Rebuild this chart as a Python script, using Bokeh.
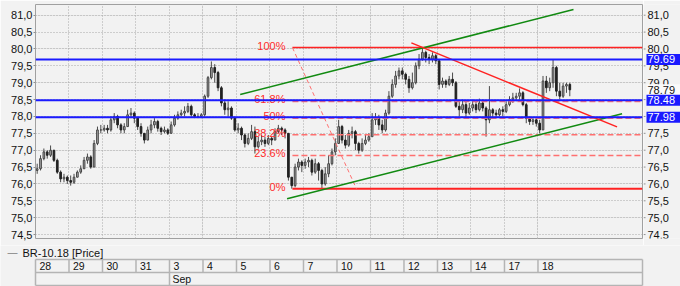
from bokeh.plotting import figure
from bokeh.models import (Range1d, LinearAxis, FixedTicker, CustomJSTickFormatter,
                          ColumnDataSource, Span, Grid)
from bokeh.layouts import column, row
from bokeh.embed import file_html
from bokeh.resources import INLINE
from bokeh.core.properties import value

# ---------------- data ----------------
days = ["28", "29", "30", "31", "3", "4", "5", "6", "7", "10", "11", "12", "13", "14", "17", "18"]
months = ["Sep"]
month_start = [4]          # index of first day of the month in `days`
bars_per_day = 10
series_name = "BR-10.18 [Price]"

first_open = 76.4
close_ = [
    76.45, 76.75, 76.95, 76.85, 77.0, 76.7, 76.35, 76.15, 76.2, 76.1,
    76.05, 76.2, 76.35, 76.45, 76.7, 76.8, 76.5, 77.2, 77.6, 77.6,
    77.65, 77.6, 77.9, 78.0, 77.75, 77.6, 77.7, 78.05, 78.1, 77.95,
    77.7, 77.5, 77.3, 77.6, 77.75, 77.85, 77.65, 77.55, 77.6, 77.5,
    77.75, 77.95, 78.05, 78.1, 78.15, 78.3, 78.05, 78.0, 78.0, 78.05,
    78.6, 79.15, 79.45, 79.3, 78.85, 78.4, 78.2, 78.25, 77.95, 77.6,
    77.65, 77.45, 77.2, 77.35, 77.55, 77.1, 77.25, 77.3, 77.2, 77.35,
    77.3, 77.55, 77.65, 77.6, 77.5, 76.2, 75.95, 76.5, 76.65, 76.55,
    76.65, 76.7, 76.35, 76.6, 76.4, 76.0, 76.3, 76.6, 76.95, 77.2,
    77.7, 77.3, 77.15, 77.5, 77.55, 77.2, 77.0, 77.2, 77.3, 77.4,
    77.9, 77.95, 77.75, 77.6, 78.1, 78.6, 78.95, 79.2, 79.35, 79.25,
    79.1, 78.85, 79.0, 79.5, 79.7, 79.9, 79.75, 79.7, 79.8, 79.65,
    78.95, 79.05, 78.95, 79.1, 79.0, 78.3, 78.2, 78.35, 78.1, 78.25,
    78.35, 78.2, 78.4, 78.25, 77.9, 78.2, 78.1, 78.05, 78.2, 78.15,
    78.35, 78.5, 78.55, 78.6, 78.7, 78.35, 77.95, 77.85, 77.9, 77.8,
    77.6, 79.05, 78.85, 79.0, 79.45, 78.75, 78.6, 78.9, 78.95, 78.79,
]
high_ = [
    76.6, 76.85, 77.05, 77.0, 77.14, 77.0, 76.75, 76.4, 76.3, 76.25,
    76.25, 76.3, 76.4, 76.55, 76.8, 76.9, 76.85, 77.3, 77.7, 77.75,
    77.75, 77.75, 78.0, 78.1, 78.05, 77.8, 77.8, 78.2, 78.25, 78.15,
    77.95, 77.8, 77.5, 77.7, 77.9, 77.95, 77.9, 77.7, 77.7, 77.65,
    77.85, 78.05, 78.15, 78.2, 78.3, 78.4, 78.35, 78.1, 78.1, 78.1,
    78.65, 79.2, 79.63, 79.55, 79.35, 78.9, 78.5, 78.45, 78.3, 78.0,
    77.8, 77.7, 77.5, 77.5, 77.75, 77.7, 77.4, 77.45, 77.4, 77.45,
    77.4, 77.65, 77.75, 77.7, 77.65, 77.5, 76.2, 76.6, 76.75, 76.7,
    76.75, 76.8, 76.75, 76.75, 76.65, 76.45, 76.5, 76.85, 77.05, 77.35,
    77.9, 77.75, 77.45, 77.6, 77.7, 77.6, 77.25, 77.35, 77.45, 77.5,
    78.1, 78.1, 78.05, 77.9, 78.2, 78.75, 79.1, 79.35, 79.45, 79.45,
    79.3, 79.2, 79.3, 79.6, 79.85, 80.04, 79.95, 79.85, 79.9, 79.85,
    79.66, 79.15, 79.1, 79.2, 79.3, 79.05, 78.45, 78.5, 78.45, 78.4,
    78.5, 78.45, 78.53, 78.5, 78.3, 78.9, 78.25, 78.2, 78.25, 78.3,
    78.45, 78.6, 78.7, 78.7, 78.83, 78.75, 78.4, 78.0, 77.95, 77.95,
    77.9, 79.2, 79.2, 79.15, 79.69, 79.5, 79.0, 79.0, 79.0, 79.0,
]
low_ = [
    76.3, 76.4, 76.7, 76.75, 76.8, 76.65, 76.3, 76.05, 76.05, 76.0,
    75.95, 76.0, 76.2, 76.3, 76.45, 76.6, 76.45, 76.5, 77.15, 77.5,
    77.55, 77.5, 77.55, 77.8, 77.65, 77.5, 77.5, 77.7, 77.95, 77.8,
    77.6, 77.4, 77.2, 77.3, 77.5, 77.65, 77.55, 77.45, 77.5, 77.45,
    77.5, 77.7, 77.9, 78.0, 78.0, 78.1, 78.0, 77.95, 77.95, 77.95,
    78.0, 78.55, 79.1, 79.0, 78.75, 78.3, 78.05, 78.0, 77.9, 77.55,
    77.5, 77.3, 77.08, 77.15, 77.3, 76.9, 77.05, 77.15, 77.1, 77.15,
    77.15, 77.3, 77.5, 77.45, 77.35, 76.1, 75.86, 75.9, 76.4, 76.35,
    76.45, 76.5, 76.25, 76.3, 76.1, 75.88, 75.95, 76.2, 76.55, 76.85,
    77.2, 77.2, 77.05, 77.1, 77.35, 77.0, 76.9, 76.95, 77.15, 77.25,
    77.4, 77.75, 77.6, 77.5, 77.55, 78.05, 78.55, 78.85, 79.1, 79.1,
    78.95, 78.7, 78.8, 78.95, 79.4, 79.65, 79.6, 79.55, 79.6, 79.55,
    78.8, 78.85, 78.85, 78.9, 78.9, 78.25, 78.0, 78.1, 77.95, 78.05,
    78.15, 78.1, 78.15, 78.15, 77.4, 77.8, 77.95, 77.95, 78.0, 78.0,
    78.1, 78.3, 78.4, 78.45, 78.5, 78.3, 77.8, 77.75, 77.75, 77.7,
    77.5, 77.6, 78.7, 78.75, 78.85, 78.6, 78.5, 78.55, 78.7, 78.6,
]

y_ticks = [74.5, 75.0, 75.5, 76.0, 76.5, 77.0, 77.5, 78.0, 78.5, 79.0, 79.5, 80.0, 80.5, 81.0]

# drawn analysis tools (anchors in day units / price)
fib_high, fib_low = 80.04, 75.86
fib_pct = [1.0, 0.618, 0.5, 0.382, 0.236, 0.0]
fib_text = ["100%", "61.8%", "50%", "38.2%", "23.6%", "0%"]
fib_x = [7.67, 9.58]                      # start of levels / end of diagonal
blue_levels = [79.69, 78.48, 77.98]
last_price = 78.79
green_upper = ([6.11, 16.06], [78.65, 81.17])
green_lower = ([7.51, 17.51], [75.56, 78.08])
red_trend = ([11.22, 17.36], [80.18, 77.69])

X_END = 18.12
DAY_PX = 607 / X_END
BG = "#f2f2f2"
FONT = "Liberation Sans"
Y_RANGE = Range1d(74.383, 81.318)

# ---------------- main price figure ----------------
p = figure(width=643, height=245, x_range=Range1d(0, X_END), y_range=Y_RANGE,
           output_backend="svg", toolbar_location=None, x_axis_location=None, y_axis_location=None,
           min_border_left=35, min_border_right=1, min_border_top=4, min_border_bottom=7,
           background_fill_color=BG, border_fill_color=BG, outline_line_color="#a0a0a0")

p.add_layout(Grid(dimension=0, ticker=FixedTicker(ticks=list(range(1, len(days)))),
                  grid_line_color="#a8a8a8", grid_line_dash="1 2"))
p.add_layout(Grid(dimension=1, ticker=FixedTicker(ticks=y_ticks),
                  grid_line_color="#a8a8a8", grid_line_dash="1 2"))

fmt = CustomJSTickFormatter(code="return tick.toFixed(1).replace('.', ',');")
yax = LinearAxis(ticker=FixedTicker(ticks=y_ticks), formatter=fmt, axis_line_color=None,
                 major_tick_out=2, major_tick_in=0, major_tick_line_color="#909090",
                 minor_tick_line_color=None, major_label_standoff=1,
                 major_label_text_font=FONT, major_label_text_font_size="11px",
                 major_label_text_color="#111111")
p.add_layout(yax, "left")

xs = [d + (j + 0.5) / bars_per_day for d in range(len(days)) for j in range(bars_per_day)]
opens = [first_open] + close_[:-1]
up = [c >= o for o, c in zip(opens, close_)]
src = ColumnDataSource(dict(
    x=xs, open=opens, close=close_, high=high_, low=low_,
    fill=["#b0b0b0" if u else "#222222" for u in up],
    line=["#444444" if u else "#222222" for u in up],
))
p.segment(x0="x", y0="high", x1="x", y1="low", source=src, line_color="#4a4a4a", line_width=1)
p.vbar(x="x", width=0.05, top="open", bottom="close", source=src,
       fill_color="fill", line_color="line", line_width=1)

# Fibonacci retracement
fib_prices = [fib_low + k * (fib_high - fib_low) for k in fib_pct]
for k, fp in zip(fib_pct, fib_prices):
    if k in (1.0, 0.0):
        p.segment(x0=[fib_x[0]], y0=[fp], x1=[X_END], y1=[fp], line_color="#ff2222",
                  line_width=2 if k == 0.0 else 1.5)
    else:
        p.segment(x0=[fib_x[0]], y0=[fp], x1=[X_END], y1=[fp], line_color="#ff7070",
                  line_width=1.5, line_dash="6 3")
p.line(x=fib_x, y=[fib_high, fib_low], line_color="#ff7070", line_width=1, line_dash="4 3")
p.text(x=[fib_x[0]] * len(fib_prices), y=fib_prices, text=fib_text, text_align="right",
       text_baseline="alphabetic", x_offset=-7, y_offset=-2, text_color="#ff2a2a",
       text_font=value(FONT), text_font_size="11px")

# channel & trend lines
p.line(x=green_upper[0], y=green_upper[1], line_color="#118a11", line_width=1.6)
p.line(x=green_lower[0], y=green_lower[1], line_color="#118a11", line_width=1.6)
p.line(x=red_trend[0], y=red_trend[1], line_color="#ff2222", line_width=1.5)

# horizontal levels
for lvl in blue_levels:
    p.add_layout(Span(location=lvl, dimension="width", line_color="#1a1aff", line_width=2))

# ---------------- right price scale with price tags ----------------
p3 = figure(width=37, height=245, x_range=Range1d(0, 37), y_range=Y_RANGE,
            output_backend="svg", toolbar_location=None, x_axis_location=None, y_axis_location=None,
            min_border_left=0, min_border_right=0, min_border_top=4, min_border_bottom=7,
            background_fill_color=BG, border_fill_color=BG, outline_line_color=None)
p3.grid.visible = False
p3.segment(x0=[0] * len(y_ticks), y0=y_ticks, x1=[2] * len(y_ticks), y1=y_ticks,
           line_color="#909090", line_width=1)
p3.text(x=[4] * len(y_ticks), y=y_ticks, text=[f"{t:.1f}".replace(".", ",") for t in y_ticks],
        text_baseline="middle", text_font=value(FONT), text_font_size="11px", text_color="#111111")
p3.rect(x=[20], y=[last_price], width=34, height=11, width_units="screen", height_units="screen",
        fill_color="#fafafa", line_color=None)
p3.text(x=[4], y=[last_price], text=[f"{last_price:.2f}"], text_baseline="middle",
        text_font=value(FONT), text_font_size="11px", text_color="#111111")
p3.rect(x=[20] * len(blue_levels), y=blue_levels, width=34, height=11, width_units="screen",
        height_units="screen", fill_color="#1a1aff", line_color=None)
p3.text(x=[4] * len(blue_levels), y=blue_levels, text=[f"{v:.2f}" for v in blue_levels],
        text_baseline="middle", text_font=value(FONT), text_font_size="11px", text_color="white")

# ---------------- legend + date strip ----------------
# frame spans the whole width; x in day units (same scale as the price pane), y in pixels
p2 = figure(width=680, height=41, x_range=Range1d(-35 / DAY_PX, X_END + 38 / DAY_PX),
            y_range=Range1d(0, 41),
            output_backend="svg", toolbar_location=None, x_axis_location=None, y_axis_location=None,
            min_border_left=0, min_border_right=0, min_border_top=0, min_border_bottom=0,
            background_fill_color=BG, border_fill_color=BG, outline_line_color=None)
p2.grid.visible = False
n_days = len(days)
SC = "#b4b4b4"
# strip box: rows y 1..14 (months) and 14..27 (days)
p2.segment(x0=[0, 0, 0], y0=[1, 14, 27], x1=[X_END] * 3, y1=[1, 14, 27], line_color=SC, line_width=1.5)
p2.segment(x0=[0, X_END], y0=[1, 1], x1=[0, X_END], y1=[27, 27], line_color=SC, line_width=1.5)
p2.segment(x0=list(range(1, n_days)), y0=[14] * (n_days - 1), x1=list(range(1, n_days)),
           y1=[27] * (n_days - 1), line_color=SC, line_width=1.5)
p2.segment(x0=month_start, y0=[1] * len(months), x1=month_start, y1=[14] * len(months),
           line_color=SC, line_width=1.5)
p2.text(x=list(range(n_days)), y=[20.5] * n_days, text=days, x_offset=4, text_baseline="middle",
        text_font=value(FONT), text_font_size="10.5px", text_color="#111111")
p2.text(x=month_start, y=[7.5] * len(months), text=months, x_offset=3, text_baseline="middle",
        text_font=value(FONT), text_font_size="10.5px", text_color="#111111")
# series legend
p2.text(x=[0], y=[34], text=["\u2014"], x_offset=-28, text_baseline="middle",
        text_font=value(FONT), text_font_size="10px", text_color="#808080")
p2.text(x=[0], y=[34], text=[series_name], x_offset=-13, text_baseline="middle",
        text_font=value(FONT), text_font_size="11px", text_color="#111111")

layout = column(row(p, p3, spacing=0), p2, spacing=0)
open("out.html", "w").write(file_html(layout, INLINE))
